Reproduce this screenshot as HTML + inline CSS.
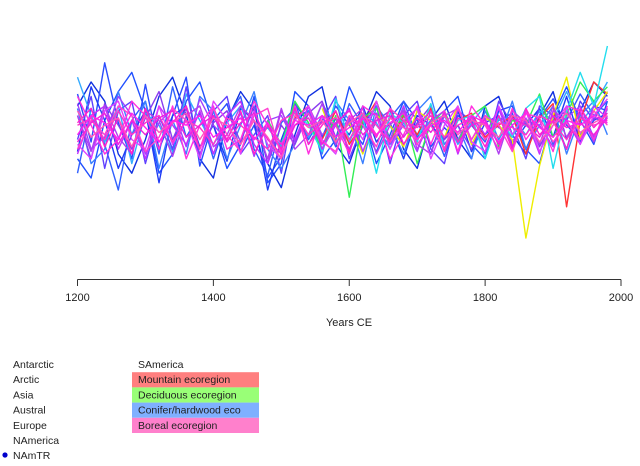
<!DOCTYPE html>
<html><head><meta charset="utf-8"><style>
body{margin:0;background:#fff;}
svg{display:block;font-family:"Liberation Sans",Arial,sans-serif;}
</style></head><body>
<svg id="chart" width="640" height="466" viewBox="0 0 640 466">
<g id="series"></g>
<g id="axis"></g>
<text x="349" y="326" font-size="11" text-anchor="middle" fill="#222">Years CE</text>
<g id="legend"></g>
</svg>
<script>
const years = []; for (let y = 1200; y <= 1980; y += 20) years.push(y);
const tickLabels = [1200, 1400, 1600, 1800, 2000];
const s1=[1.5,-0.5,2.8,0.3,-1.2,1.9,-0.8,0.6,2.2,-1.5,0.4,1.1,-0.9,0.2,-2.0,-1.1,0.5,0.8,-0.3,1.0,0.2,-0.6,1.2,-0.4,0.3,0.9,-0.7,0.1,-0.5,0.6,-0.2,0.4,0.7,-0.8,0.5,1.3,0.2,-0.4,1.0,0.8];
const s2=[-1.8,0.9,-0.6,-2.5,0.4,1.2,-1.0,1.8,-0.3,0.7,-1.2,0.5,1.4,-0.8,-1.9,0.3,0.9,-0.4,0.6,-0.7,1.1,0.2,-0.9,0.5,1.2,-0.3,0.4,-1.1,0.6,0.2,-0.5,0.9,-0.2,0.3,0.8,-0.6,0.4,1.5,0.6,1.2];
const s3=[0.6,-1.2,1.1,0.2,-0.8,0.5,1.6,-0.4,0.9,-1.0,0.3,0.8,-0.5,1.0,-1.4,0.2,-0.6,0.7,1.2,-0.3,0.5,-0.9,0.4,0.8,-0.6,0.3,1.0,-0.4,0.2,-0.8,0.6,0.1,-0.3,0.9,-0.7,0.4,0.8,-0.2,0.5,0.3];
const s4=[0.2,0.5,-0.4,0.8,-0.2,0.3,0.6,-0.5,0.4,0.1,-0.6,0.5,0.2,-0.3,-0.8,0.4,0.7,-0.2,0.3,0.5,-0.4,0.6,0.2,-0.5,0.4,0.1,0.6,-0.3,0.2,0.5,-0.4,0.3,0.1,-0.2,0.6,0.3,-0.4,0.5,0.2,0.4];
const s5=[-0.5,0.3,0.7,-0.6,0.4,-0.2,0.5,0.8,-0.3,0.2,0.6,-0.5,0.3,0.7,-0.4,-1.0,0.2,0.5,-0.6,0.3,0.8,-0.2,0.4,0.6,-0.3,0.5,-0.1,0.7,-0.5,0.2,0.4,-0.6,0.5,0.2,-0.3,0.6,0.1,0.3,-0.2,0.5];
const s6=[0.8,-0.3,0.2,0.5,-0.7,0.6,-0.1,0.3,0.7,-0.4,0.5,0.2,-0.6,0.4,-0.3,-1.2,0.6,0.1,0.4,-0.5,0.3,0.7,-0.2,0.5,0.1,-0.4,0.3,0.6,-0.2,0.4,0.2,-0.3,0.6,0.4,-0.5,0.2,0.7,-0.1,0.3,0.6];
const s7=[0.5,1.0,-0.4,0.8,-0.6,0.3,1.2,-0.5,0.6,-0.2,0.9,-0.8,0.4,0.7,-0.3,0.2,0.6,-1.0,0.5,1.1,-3.2,0.4,2.0,1.5];
const s8=[0.9,-0.5,0.3,-1.0,0.6,0.2,-0.7,0.8,0.4,-0.3,1.0,-0.6,0.5,0.2,-0.4,-4.5,-1.5,0.6,2.2,-0.3,0.8,1.6];
const s9=[0.4,-0.6,1.2,0.3,-0.8,0.6,-2.8,0.5,0.9,-0.4,0.7,-1.4,0.3,0.8,-0.5,0.6,1.0,-0.7,0.4,0.2,1.5,-0.3,0.6,2.0,1.2,1.8];
const s10=[-0.6,0.8,0.2,-0.9,1.3,-0.4,0.5,-1.8,0.7,0.3,-0.5,1.1,-0.8,0.4,0.6,-1.2,0.5,-0.3,0.9,1.4,-1.6,0.8,2.4,1.0,3.5];
const s11=[-0.9,1.8,0.4,-1.6,-0.2,0.8,-2.2,0.6,1.0,-0.7,0.2,-1.3,0.9,0.4,-2.5,-0.4,1.1,0.3,-0.8,0.5,-0.2,1.0,-0.5,0.3,-1.2,0.6,0.2,-0.4,0.8,-0.9,0.3,0.6,-0.6,0.2,0.9,-0.3,1.4,-0.5,0.4,0.7];
const s12=[1.1,-0.8,-0.3,1.4,0.6,-1.0,0.3,0.9,-0.7,1.3,0.2,-0.4,0.7,-1.1,0.4,0.6,-0.5,1.0,-0.2,0.3,-0.8,0.5,0.7,-0.6,0.2,-0.9,0.8,0.3,-0.4,0.6,-0.2,0.9,-0.5,0.4,0.2,-0.7,0.5,1.0,-0.3,0.6];
const s13=[-0.2,0.6,0.3,-0.4,0.7,0.1,-0.5,0.4,0.2,0.6,-0.3,0.1,0.5,-0.4,0.3,-0.6,0.4,0.2,0.6,-0.3,0.1,0.5,-0.2,0.3,0.7,-0.4,0.2,0.4,-0.1,0.6,0.3,-0.5,0.2,0.7,0.1,-0.3,0.4,0.2,0.6,0.3];
const s14=[2.2,0.6,-0.5,1.0,-1.4,0.7,0.2,-0.9,1.5,0.4,-0.6,0.3,1.0,-0.4,0.1,-0.7,0.8,-0.3,1.1,0.2,-0.5,0.7,0.3,-0.8,0.9,-0.2,0.4,0.6,-0.6,0.3,1.0,-0.4,0.5,-0.2,0.8,0.4,1.6,0.3,1.0,2.0];
const s15=[-1.2,-2.0,0.4,1.6,2.4,0.8,-1.8,-1.0,1.2,2.0,0.2,-1.6,-0.6,1.4,-2.2,-1.4,1.6,1.0,-1.2,-0.4,1.8,0.6,-1.4,-0.2,1.2,0.4,-1.0,0.8,1.4,-0.6,-1.2,0.8,1.0,-0.8,-1.4,0.6,1.8,0.4,-0.6,1.2];
const s16=[1.0,2.0,1.2,-1.0,-1.8,-0.4,1.4,2.2,0.6,-1.2,-2.0,0.4,1.6,0.8,-1.4,-2.4,-0.2,1.4,1.8,-0.6,-1.4,0.2,1.6,1.0,-0.8,-1.6,0.4,1.2,-0.4,-1.2,1.0,1.4,-0.2,-1.0,0.6,1.6,-0.4,0.8,2.0,1.4];
const s17=[-0.4,1.4,-1.6,0.8,1.2,-1.4,0.6,-0.8,1.8,-1.2,0.8,1.4,-1.0,-0.2,0.6,-1.8,1.2,-0.6,0.4,1.4,-1.2,0.2,1.0,-1.4,0.6,1.2,-0.8,-1.4,0.8,0.4,-1.0,1.2,0.2,-1.2,1.0,0.6,-0.8,1.2,0.4,1.6];
const s18=[0.9,-1.4,-0.8,1.6,-0.2,1.2,-1.6,0.4,-1.0,1.4,0.8,-1.2,0.2,1.6,-0.8,-1.6,-0.6,0.8,-1.0,1.2,0.4,-1.4,1.0,0.2,-1.0,0.8,1.4,-0.6,0.2,-1.2,0.8,-0.4,1.2,-0.8,0.2,1.0,-1.0,0.6,1.2,-0.2];
const s19=[-1.0,0.6,1.0,-0.8,0.4,-1.2,1.0,0.2,-0.6,0.8,-1.0,0.6,1.2,-0.6,-1.4,0.8,-0.4,1.0,-0.8,0.2,0.9,-0.9,0.6,-0.4,1.0,-0.8,0.4,0.8,-1.0,0.6,-0.2,0.9,-0.7,0.5,-1.0,0.8,0.4,-0.6,1.0,0.5];
const s20=[0.6,-0.9,1.0,-0.3,-1.0,0.8,0.4,-1.1,0.6,1.0,-0.7,-0.2,1.0,0.4,-1.2,0.9,-0.8,-0.2,1.1,-0.6,0.4,0.9,-1.0,0.2,0.8,-0.6,-1.0,0.6,0.9,-0.4,0.5,-1.0,0.8,0.3,-0.6,1.0,-0.3,0.7,-0.5,0.9];
const s21=[1.4,0.2,-1.0,-0.4,1.2,0.6,-0.8,1.0,-1.2,0.2,1.0,-0.8,-0.4,1.2,0.2,-0.9,1.0,-1.0,0.6,0.2,-1.0,1.0,0.6,-1.2,-0.2,1.0,-0.6,0.8,-0.9,1.0,0.2,-0.8,0.9,-0.4,0.4,-0.9,1.0,0.8,-0.4,1.0];
const s22=[-0.6,-1.2,0.8,1.2,-0.4,-0.8,1.0,-0.6,0.4,-1.2,1.2,0.4,-1.0,0.8,-0.6,-1.2,0.4,1.0,-0.4,-1.0,0.6,-0.4,1.2,-0.8,0.4,0.9,-1.2,0.2,1.0,-0.5,-0.9,1.0,-0.2,0.8,-0.9,0.2,1.0,-0.6,0.6,1.3];
const s23=[0.3,0.9,-0.7,0.5,-1.0,0.9,-0.5,0.3,1.0,-0.8,0.6,-0.4,0.8,-1.0,0.2,-0.8,0.9,-0.6,0.2,0.8,-0.9,0.5,-0.3,0.9,-0.6,0.2,0.8,-0.9,0.5,0.3,-0.7,0.6,-0.8,0.9,-0.2,0.4,-0.8,0.9,0.1,0.7];
const s24=[-0.8,0.4,-0.2,1.0,0.6,-0.9,-0.3,0.9,0.4,-0.8,0.9,-0.2,-0.9,0.6,0.9,-1.1,0.2,0.7,-0.5,-0.9,0.6,0.2,-0.7,0.9,0.4,-0.6,0.2,-0.8,0.9,-0.4,0.6,0.2,-0.9,0.7,0.5,-0.5,0.3,-0.4,0.8,0.2];
const allSeries=[s15,s16,s1,s2,s11,s14,s17,s18,s12,s3,s7,s8,s9,s10,s19,s20,s21,s22,s23,s24,s4,s5,s6,s13];
const seriesColor=["#2050ff","#1030e0","#2a4cff","#3060ff","#1f3cf5","#33aaff","#6040ff","#3a80ff","#a040ff","#8a3cf0","#ff3333","#eeee00","#33ee55","#22ddee","#c030ff","#b040f0","#ff30e0","#e040ff","#ff22cc","#ff40d0","#ff33cc","#ee22dd","#ff55bb","#ff22ee"];
const seriesStart=[0,0,0,0,0,0,0,0,0,0,16,18,14,15,0,0,0,0,0,0,0,0,0,0];
const legendLeft=["Antarctic","Arctic","Asia","Austral","Europe","NAmerica","NAmTR"];
const legendRight=["SAmerica","Mountain ecoregion","Deciduous ecoregion","Conifer/hardwood eco","Boreal ecoregion"];
const legendFill=[null,"#ff7f7f","#99ff77","#7fb0ff","#ff80cc"];

const NS="http://www.w3.org/2000/svg";
const xScale=y=>77.5+(y-1200)*(621-77.5)/800;
const yScale=v=>130-v*24;
const g=document.getElementById('series');
allSeries.forEach((s,k)=>{
  const st=seriesStart[k];
  const pts=s.map((v,i)=>xScale(years[st+i]).toFixed(1)+","+yScale(v).toFixed(1)).join(" ");
  const p=document.createElementNS(NS,'polyline');
  p.setAttribute('points',pts);
  p.setAttribute('fill','none');
  p.setAttribute('stroke',seriesColor[k]);
  p.setAttribute('stroke-width','1.4');
  p.setAttribute('stroke-linejoin','round');
  
  
  g.appendChild(p);
});
const ax=document.getElementById('axis');
let html='<line x1="77.5" y1="279.5" x2="621" y2="279.5" stroke="#333" stroke-width="1"/>';
tickLabels.forEach(t=>{
  const x=xScale(t);
  html+=`<line x1="${x}" y1="279.5" x2="${x}" y2="286" stroke="#333"/>`;
  html+=`<text x="${x}" y="301" font-size="11" text-anchor="middle" fill="#222">${t}</text>`;
});
ax.innerHTML=html;
const lg=document.getElementById('legend');
let lh='';
legendLeft.forEach((t,i)=>{
  lh+=`<text x="13" y="${368+i*15.2}" font-size="10.5" fill="#222">${t}</text>`;
});
lh+='<circle cx="5" cy="455" r="2.6" fill="#0000cc"/>';
legendRight.forEach((t,i)=>{
  const y=357+i*15.2;
  if(legendFill[i]) lh+=`<rect x="132" y="${y}" width="127" height="15.2" fill="${legendFill[i]}"/>`;
  lh+=`<text x="138" y="${y+11}" font-size="10.5" fill="#222">${t}</text>`;
});
lg.innerHTML=lh;
</script>
</body></html>
